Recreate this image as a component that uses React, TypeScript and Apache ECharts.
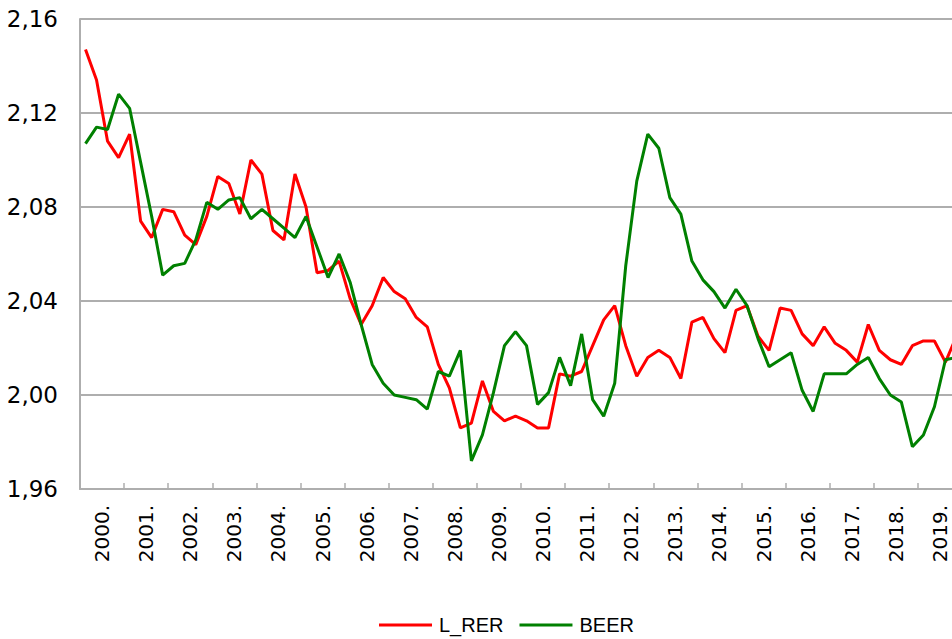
import React, { useEffect, useRef } from "react";
import * as echarts from "echarts";

const years = [
  "2000.", "2001.", "2002.", "2003.", "2004.", "2005.", "2006.", "2007.", "2008.", "2009.",
  "2010.", "2011.", "2012.", "2013.", "2014.", "2015.", "2016.", "2017.", "2018.", "2019.",
];
const quarters = ["Q1", "Q2", "Q3", "Q4"];

const lRer = [
  2.147, 2.134, 2.108, 2.101, 2.111, 2.074, 2.067, 2.079,
  2.078, 2.068, 2.064, 2.076, 2.093, 2.090, 2.077, 2.100,
  2.094, 2.070, 2.066, 2.094, 2.080, 2.052, 2.053, 2.057,
  2.041, 2.030, 2.038, 2.050, 2.044, 2.041, 2.033, 2.029,
  2.013, 2.003, 1.986, 1.988, 2.006, 1.993, 1.989, 1.991,
  1.989, 1.986, 1.986, 2.009, 2.008, 2.010, 2.021, 2.032,
  2.038, 2.021, 2.008, 2.016, 2.019, 2.016, 2.007, 2.031,
  2.033, 2.024, 2.018, 2.036, 2.038, 2.025, 2.019, 2.037,
  2.036, 2.026, 2.021, 2.029, 2.022, 2.019, 2.014, 2.030,
  2.019, 2.015, 2.013, 2.021, 2.023, 2.023, 2.014, 2.025,
];

const beer = [
  2.107, 2.114, 2.113, 2.128, 2.122, 2.099, 2.076, 2.051,
  2.055, 2.056, 2.066, 2.082, 2.079, 2.083, 2.084, 2.075,
  2.079, 2.075, 2.071, 2.067, 2.076, 2.063, 2.050, 2.060,
  2.048, 2.030, 2.013, 2.005, 2.000, 1.999, 1.998, 1.994,
  2.010, 2.008, 2.019, 1.972, 1.983, 2.001, 2.021, 2.027,
  2.021, 1.996, 2.001, 2.016, 2.004, 2.026, 1.998, 1.991,
  2.005, 2.055, 2.091, 2.111, 2.105, 2.084, 2.077, 2.057,
  2.049, 2.044, 2.037, 2.045, 2.038, 2.024, 2.012, 2.015,
  2.018, 2.002, 1.993, 2.009, 2.009, 2.009, 2.013, 2.016,
  2.007, 2.000, 1.997, 1.978, 1.983, 1.995, 2.015, 2.016,
];

const yMin = 1.96;
const yMax = 2.16;
const yStep = 0.04;

const quarterCats: string[] = [];
years.forEach((y) => quarters.forEach((q) => quarterCats.push(y + q)));

export default function App() {
  const ref = useRef<HTMLDivElement>(null);
  useEffect(() => {
    if (!ref.current) return;
    document.documentElement.style.overflow = "hidden";
    document.body.style.overflow = "hidden";
    const chart = echarts.init(ref.current, undefined, { renderer: "svg" });
    const grey = "#aeaeae";
    chart.setOption({
      animation: false,
      backgroundColor: "#ffffff",
      grid: { left: 80, top: 19, bottom: 150, right: 0, containLabel: false },
      legend: {
        left: 374,
        top: 608,
        icon: "rect",
        itemWidth: 53,
        itemHeight: 3,
        itemGap: 16,
        textStyle: {
          fontFamily: "Liberation Sans",
          fontSize: 20,
          lineHeight: 24,
          color: "#000",
          padding: [0, 0, 0, 2],
        },
        data: ["L_RER", "BEER"],
      },
      xAxis: [
        {
          type: "category",
          data: quarterCats,
          boundaryGap: true,
          show: false,
          position: "bottom",
        },
        {
          type: "category",
          data: years,
          boundaryGap: true,
          position: "bottom",
          axisLine: { show: true, lineStyle: { color: grey, width: 2 } },
          axisTick: { show: true, inside: true, length: 6, interval: 0, lineStyle: { color: grey, width: 1.5 } },
          axisLabel: {
            interval: 0,
            rotate: 90,
            margin: 16,
            fontFamily: "DejaVu Sans",
            fontSize: 20,
            color: "#000",
          },
          splitLine: { show: false },
        },
      ],
      yAxis: {
        type: "value",
        min: yMin,
        max: yMax,
        interval: yStep,
        axisLine: { show: true, lineStyle: { color: grey, width: 2 } },
        axisTick: { show: false },
        splitLine: { show: true, lineStyle: { color: grey, width: 2 } },
        axisLabel: {
          margin: 22,
          fontFamily: "DejaVu Sans",
          fontSize: 23,
          color: "#000",
          formatter: (v: number) => v.toFixed(2).replace(".", ","),
        },
      },
      series: [
        {
          name: "L_RER",
          type: "line",
          xAxisIndex: 0,
          data: lRer,
          symbol: "none",
          lineStyle: { color: "#ff0000", width: 3 },
          itemStyle: { color: "#ff0000" },
          z: 2,
        },
        {
          name: "BEER",
          type: "line",
          xAxisIndex: 0,
          data: beer,
          symbol: "none",
          lineStyle: { color: "#008000", width: 3 },
          itemStyle: { color: "#008000" },
          z: 3,
        },
      ],
    });
    return () => chart.dispose();
  }, []);
  return (
    <div
      ref={ref}
      style={{ position: "fixed", left: 0, top: 0, width: 962, height: 639 }}
    />
  );
}
